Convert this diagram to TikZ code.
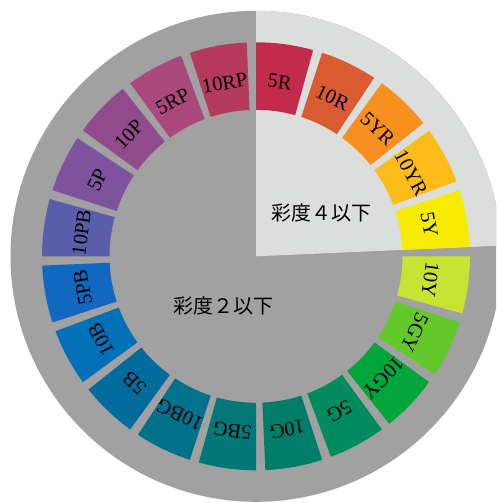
\documentclass[tikz,border=0pt]{standalone}
\usepackage{fontspec}
\setmainfont{Liberation Serif}
\newfontfamily\jpfont{Noto Sans CJK JP}
\definecolor{bgdark}{HTML}{A0A1A0}
\definecolor{bglight}{HTML}{DCDEDD}
\definecolor{c5R}{HTML}{C22B4B}
\definecolor{c10R}{HTML}{D95B32}
\definecolor{c5YR}{HTML}{F7901F}
\definecolor{c10YR}{HTML}{FBBC1A}
\definecolor{c5Y}{HTML}{F7EB00}
\definecolor{c10Y}{HTML}{C7E432}
\definecolor{c5GY}{HTML}{63C829}
\definecolor{c10GY}{HTML}{00A63C}
\definecolor{c5G}{HTML}{008C5E}
\definecolor{c10G}{HTML}{007D68}
\definecolor{c5BG}{HTML}{007878}
\definecolor{c10BG}{HTML}{00718A}
\definecolor{c5B}{HTML}{006C9E}
\definecolor{c10B}{HTML}{0070B8}
\definecolor{c5PB}{HTML}{1268BF}
\definecolor{c10PB}{HTML}{5A5EA9}
\definecolor{c5P}{HTML}{7E539D}
\definecolor{c10P}{HTML}{914A8B}
\definecolor{c5RP}{HTML}{A8487B}
\definecolor{c10RP}{HTML}{B63A5E}
\begin{document}
\begin{tikzpicture}[x=1pt,y=1pt,
  seglabel/.style={font=\fontsize{20.5}{21}\selectfont, inner sep=0pt, text=black},
  jplabel/.style={font=\jpfont\fontsize{20}{22}\selectfont, inner sep=0pt, text=black}]
\useasboundingbox (-256,-246.7) rectangle (240,256.3);
\clip (-256,-246.7) rectangle (240,256.3);
\fill[bgdark] (0,0) circle (245.5);
\fill[bglight] (0,0) -- (2.5:245.5) arc (2.5:90:245.5) -- cycle;
\foreach \name/\col [count=\k from 0] in {5R/c5R,10R/c10R,5YR/c5YR,10YR/c10YR,5Y/c5Y,10Y/c10Y,5GY/c5GY,10GY/c10GY,5G/c5G,10G/c10G,5BG/c5BG,10BG/c10BG,5B/c5B,10B/c10B,5PB/c5PB,10PB/c10PB,5P/c5P,10P/c10P,5RP/c5RP,10RP/c10RP} {
  \pgfmathsetmacro\hi{90-18*\k}
  \pgfmathsetmacro\lo{\hi-15.5}
  \pgfmathsetmacro\mid{(\hi+\lo)/2}
  \fill[\col] (\lo:146.5) arc (\lo:\hi:146.5) -- (\hi:214) arc (\hi:\lo:214) -- cycle;
  \node[seglabel, rotate={\mid-90}] (lab\k) at (\mid:176) {\name};
}
\node[jplabel] (c4) at (65,43.8) {彩度４以下};
\node[jplabel] (c2) at (-32.5,-49.4) {彩度２以下};
\end{tikzpicture}
\end{document}
